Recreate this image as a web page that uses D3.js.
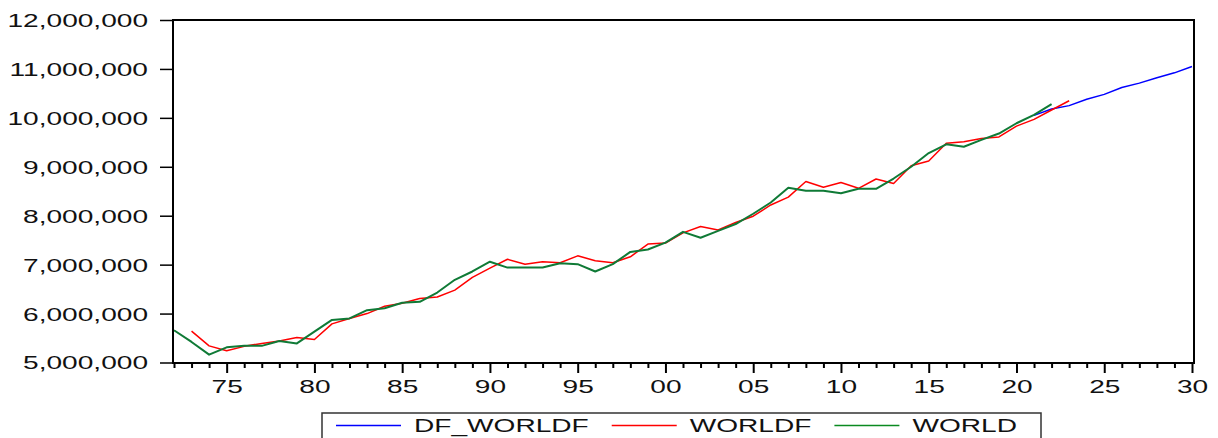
<!DOCTYPE html>
<html>
<head>
<meta charset="utf-8">
<script src="https://cdn.jsdelivr.net/npm/d3@7"></script>
<style>
  body { margin: 0; background: #fff; }
  svg { display: block; }
  text { font-family: "Liberation Sans", Arial, sans-serif; font-size: 18px; fill: #111; }
</style>
</head>
<body>
<div id="chart"></div>
<script>
// series values (persons)
const worldStart = 1972
const world = [
  5660000, 5420000, 5160000, 5310000, 5340000, 5340000, 5440000, 5390000,
  5630000, 5870000, 5900000, 6070000, 6110000, 6220000, 6240000, 6430000, 6690000, 6860000,
  7060000, 6940000, 6940000, 6940000, 7030000, 7010000, 6860000, 7010000, 7260000, 7310000,
  7450000, 7670000, 7550000, 7690000, 7830000, 8040000, 8270000, 8570000, 8510000, 8510000,
  8460000, 8550000, 8550000, 8760000, 9000000, 9280000, 9460000, 9410000, 9550000, 9680000,
  9890000, 10060000, 10280000
]

const worldfStart = 1973
const worldf = [
  5640000, 5340000, 5240000, 5330000, 5390000, 5440000, 5510000,
  5470000, 5790000, 5900000, 6000000, 6150000, 6210000, 6310000, 6340000, 6480000, 6740000,
  6930000, 7110000, 7010000, 7060000, 7040000, 7180000, 7080000, 7040000, 7160000, 7420000,
  7440000, 7650000, 7780000, 7710000, 7860000, 7990000, 8220000, 8380000, 8700000, 8580000,
  8680000, 8560000, 8750000, 8660000, 9020000, 9120000, 9480000, 9510000, 9580000, 9610000,
  9830000, 9970000, 10160000, 10350000
]

const dfStart = 2021
const dfWorldf = [10050000, 10180000, 10250000, 10380000, 10480000, 10620000, 10710000, 10820000, 10920000, 11050000]

const yTicks = [5000000, 6000000, 7000000, 8000000, 9000000, 10000000, 11000000, 12000000]
const firstYear = 1972, lastYear = 2030
const legendLabels = ['DF_WORLDF', 'WORLDF', 'WORLD']

const colors = { df: '#0000ff', worldf: '#ff0000', world: '#0f7a36' }

const width = 1218, height = 438
const frame = { left: 173, top: 20, right: 1194, bottom: 363 }
const stretch = 1.56 // the reference font is drawn wide

const toPoints = (start, values) => values.map((v, i) => ({ year: start + i, value: v }))

const svg = d3.select('#chart').append('svg')
  .attr('width', width)
  .attr('height', height)

const x = d3.scaleLinear()
  .domain([firstYear, lastYear])
  .range([174, 1192])

const y = d3.scaleLinear()
  .domain([5000000, 12000000])
  .range([362.5, frame.top])

function widen(sel) {
  sel.each(function() {
    const len = this.getComputedTextLength()
    d3.select(this)
      .attr('textLength', len * stretch)
      .attr('lengthAdjust', 'spacingAndGlyphs')
  })
}

// y axis
const yAxis = svg.append('g')
  .attr('transform', 'translate(' + frame.left + ',0)')
  .call(d3.axisLeft(y).tickValues(yTicks).tickSize(13).tickPadding(12).tickFormat(d3.format(',')))
yAxis.select('.domain').remove()
yAxis.selectAll('line').attr('stroke', '#000').attr('stroke-width', 1.5)
yAxis.selectAll('text').attr('dy', '0.36em').attr('fill', '#111').call(widen)

// x axis: a tick every year, longer and labelled every five
const years = d3.range(firstYear, lastYear + 1)
const xMinor = svg.append('g')
  .attr('transform', 'translate(0,' + frame.bottom + ')')
  .call(d3.axisBottom(x).tickValues(years.filter(d => d % 5 !== 0)).tickSize(5).tickFormat(''))
xMinor.select('.domain').remove()
xMinor.selectAll('line').attr('stroke', '#000').attr('stroke-width', 2)

const xMajor = svg.append('g')
  .attr('transform', 'translate(0,' + frame.bottom + ')')
  .call(d3.axisBottom(x).tickValues(years.filter(d => d % 5 === 0)).tickSize(10)
    .tickFormat(d => String(d % 100).padStart(2, '0')))
xMajor.select('.domain').remove()
xMajor.selectAll('line').attr('stroke', '#000').attr('stroke-width', 2)
xMajor.selectAll('text').attr('y', 17).attr('dy', '0.71em').attr('fill', '#111').call(widen)

// lines
const line = d3.line()
  .x(d => x(d.year))
  .y(d => y(d.value))

const series = [
  { key: 'df', data: toPoints(dfStart, dfWorldf), w: 1.5 },
  { key: 'worldf', data: toPoints(worldfStart, worldf), w: 1.5 },
  { key: 'world', data: toPoints(worldStart, world), w: 2 }
]

svg.append('g').selectAll('path')
  .data(series)
  .enter()
    .append('path')
    .attr('fill', 'none')
    .attr('stroke', d => colors[d.key])
    .attr('stroke-width', d => d.w)
    .attr('stroke-linejoin', 'round')
    .attr('d', d => line(d.data))

// frame
svg.append('rect')
  .attr('x', frame.left)
  .attr('y', frame.top)
  .attr('width', frame.right - frame.left)
  .attr('height', frame.bottom - frame.top)
  .attr('fill', 'none')
  .attr('stroke', '#000')
  .attr('stroke-width', 2)

// legend
const legend = svg.append('g')
legend.append('rect')
  .attr('x', 322)
  .attr('y', 413)
  .attr('width', 719)
  .attr('height', 40)
  .attr('fill', '#fff')
  .attr('stroke', '#333')
  .attr('stroke-width', 1.5)

let cursor = 336
const legendColors = [colors.df, colors.worldf, '#0a8a20']
legendLabels.forEach((label, i) => {
  legend.append('line')
    .attr('x1', cursor).attr('x2', cursor + 65)
    .attr('y1', 425.5).attr('y2', 425.5)
    .style('stroke', legendColors[i])
    .style('stroke-width', 1.4)
  const t = legend.append('text')
    .attr('x', cursor + 78)
    .attr('y', 432.3)
    .text(label)
  const w = t.node().getComputedTextLength() * stretch
  t.attr('textLength', w).attr('lengthAdjust', 'spacingAndGlyphs')
  cursor += 78 + w + 23
})
</script>
</body>
</html>
